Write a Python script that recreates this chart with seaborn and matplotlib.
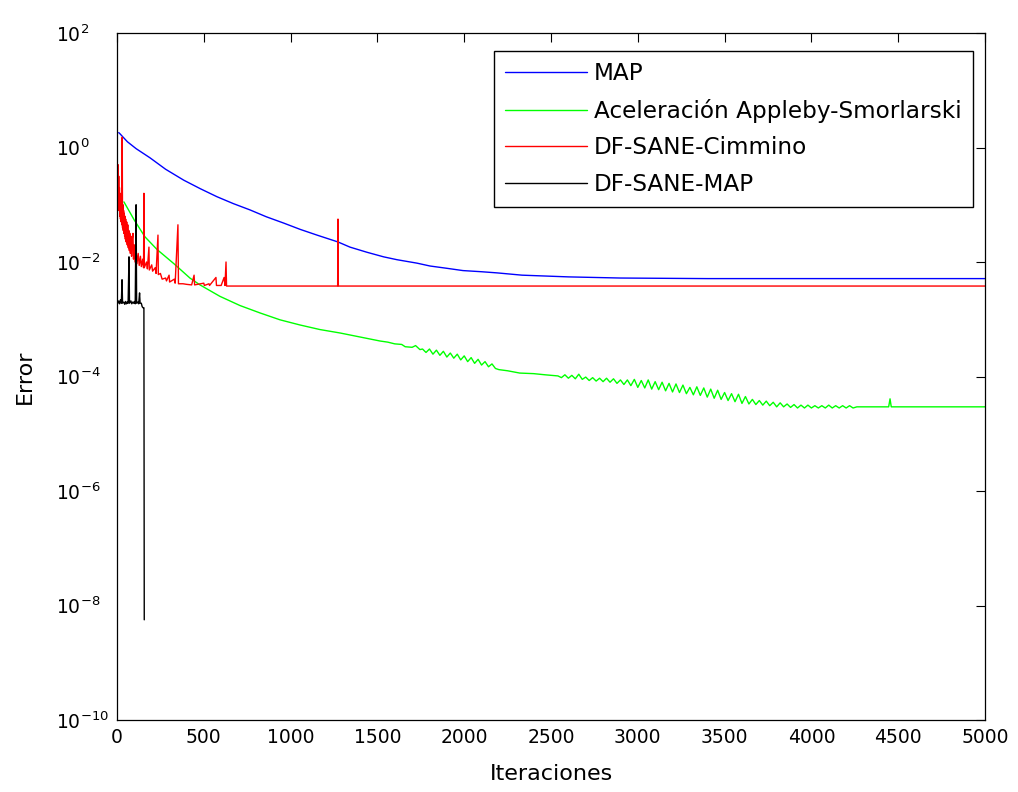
import numpy as np
import pandas as pd
import matplotlib
matplotlib.use("Agg")
import matplotlib.pyplot as plt
from matplotlib.lines import Line2D
from matplotlib.ticker import NullLocator
import seaborn as sns

# ---------------- data (log10 of the error) ----------------
series_names = ["MAP", "Aceleración Appleby-Smorlarski", "DF-SANE-Cimmino", "DF-SANE-MAP"]
series_colors = ["#0000ff", "#00ff00", "#ff0000", "#000000"]

map_it = [10, 17, 60, 110, 190, 280, 384, 480, 576, 670, 766, 860, 960, 1055, 1152,
          1273, 1342, 1440, 1536, 1613, 1728, 1803, 1900, 1993, 2100, 2189, 2333,
          2600, 2900, 3400, 4000, 5000]
map_log = [0.26, 0.24, 0.10, -0.02, -0.18, -0.38, -0.57, -0.72, -0.86, -0.98, -1.09,
           -1.21, -1.32, -1.43, -1.53, -1.65, -1.74, -1.83, -1.91, -1.96, -2.02, -2.07,
           -2.11, -2.15, -2.17, -2.19, -2.23, -2.26, -2.28, -2.29, -2.29, -2.29]

acel_it = [40, 100, 161, 230, 328, 420, 478, 593, 708, 824, 939, 1054, 1169, 1285, 1400,
           1515, 1560, 1600, 1640, 1660, 1700, 1720, 1745, 1760,
           1780, 1800, 1820, 1840, 1860, 1880, 1900, 1920, 1940, 1960, 1980, 2000, 2020,
           2040, 2060, 2080, 2100, 2120, 2140, 2160, 2180, 2200,
           2250, 2320, 2400, 2465, 2540,
           2560, 2580, 2600, 2620, 2640, 2660, 2680, 2700, 2720, 2740, 2760, 2780, 2800,
           2820, 2840, 2860, 2880, 2900, 2920, 2940, 2960, 2980, 3000, 3020, 3040, 3060,
           3080, 3100, 3120, 3140, 3160, 3180, 3200, 3220, 3240, 3260, 3280, 3300, 3320,
           3340, 3360, 3380, 3400, 3420, 3440, 3460, 3480, 3500, 3520, 3540, 3560, 3580,
           3600, 3620, 3640, 3660, 3680, 3700, 3720, 3740, 3760, 3780, 3800, 3820, 3840,
           3860, 3880, 3900, 3920, 3940, 3960, 3980, 4000, 4020, 4040, 4060, 4080, 4100,
           4120, 4140, 4160, 4180, 4200, 4220, 4240, 4262,
           4445, 4453, 4460, 5000]
acel_log = [-0.95, -1.27, -1.56, -1.78, -2.03, -2.28, -2.40, -2.60, -2.76, -2.89, -3.01,
            -3.10, -3.18, -3.24, -3.31,
            -3.38, -3.40, -3.43, -3.44, -3.48, -3.49, -3.46, -3.53, -3.52,
            -3.58, -3.52, -3.61, -3.54, -3.63, -3.56, -3.66, -3.59, -3.68, -3.61, -3.71,
            -3.64, -3.74, -3.67, -3.77, -3.70, -3.80, -3.74, -3.83, -3.78, -3.86, -3.88,
            -3.90, -3.94, -3.95, -3.97, -3.99,
            -4.02, -3.97, -4.03, -3.98, -4.04, -3.96, -4.05, -4.01, -4.07, -4.02, -4.08,
            -4.03, -4.09, -4.03, -4.10, -4.04, -4.12, -4.06, -4.14, -4.06, -4.16, -4.05,
            -4.19, -4.07, -4.20, -4.06, -4.22, -4.09, -4.23, -4.10, -4.25, -4.12, -4.27,
            -4.13, -4.28, -4.15, -4.30, -4.19, -4.32, -4.18, -4.33, -4.20, -4.36, -4.22,
            -4.38, -4.24, -4.40, -4.28, -4.42, -4.30, -4.44, -4.31, -4.47, -4.35, -4.48,
            -4.40, -4.49, -4.42, -4.50, -4.43, -4.51, -4.45, -4.53, -4.46, -4.53, -4.48,
            -4.54, -4.49, -4.55, -4.50, -4.55, -4.50, -4.55, -4.51, -4.55, -4.51, -4.55,
            -4.50, -4.55, -4.51, -4.55, -4.51, -4.55, -4.51, -4.55, -4.53,
            -4.53, -4.39, -4.53, -4.53]

cimm_it = [0, 2, 4, 6, 8, 10, 12, 14, 16, 18, 20, 22, 24, 26, 28, 30, 32, 34, 36, 38, 40,
           42, 44, 46, 48, 50, 53, 56, 59, 62, 65, 68, 71, 74, 77, 80, 84, 88, 92, 95, 100,
           104, 110, 115, 122, 128, 135, 140, 148, 153, 155, 157, 170, 175, 184, 186, 200,
           205, 220, 225, 236, 238, 250, 260, 280, 285, 300, 303, 330, 335, 351, 354, 380,
           400, 430, 444, 447, 500, 503, 530, 533, 570, 573, 600, 617, 622, 628, 631, 1271,
           1273, 1275, 5000]
cimm_log = [1.41, -0.60, -1.00, -0.30, -1.10, -0.50, -1.10, -0.70, -1.20, -0.80, -1.25,
            -0.90, -1.30, -0.95, -1.35, 0.18, -1.40, -1.00, -1.45, -1.10, -1.50, -1.15,
            -1.55, -1.20, -1.60, -1.25, -1.65, -1.30, -1.70, -1.35, -1.75, -1.45, -1.80,
            -1.50, -1.85, -1.55, -1.90, -1.60, -1.50, -1.95, -1.70, -2.00, -1.80, -2.03,
            -1.85, -2.06, -1.90, -2.08, -1.95, -2.10, -0.80, -2.10, -2.00, -2.12, -1.74,
            -2.14, -2.05, -2.16, -2.10, -2.20, -1.53, -2.22, -2.20, -2.30, -2.28, -2.33,
            -2.23, -2.35, -2.30, -2.37, -1.35, -2.38, -2.38, -2.39, -2.40, -2.23, -2.40,
            -2.37, -2.41, -2.38, -2.41, -2.27, -2.41, -2.41, -2.27, -2.41, -2.00, -2.42,
            -2.42, -1.25, -2.42, -2.42]

dfmap_it = [0, 5, 10, 15, 20, 25, 29, 32, 40, 45, 50, 55, 60, 64, 69, 72, 80, 85, 90, 95,
            100, 105, 110, 113, 120, 125, 130, 133, 140, 145, 150, 155, 157]
dfmap_log = [-2.70, -2.72, -2.68, -2.73, -2.66, -2.72, -2.31, -2.72, -2.70, -2.74, -2.69,
             -2.73, -2.70, -2.72, -1.91, -2.72, -2.68, -2.73, -2.70, -2.72, -2.69, -2.73,
             -1.00, -2.72, -2.70, -2.73, -2.54, -2.72, -2.72, -2.78, -2.80, -2.80, -8.25]

x_ticks = list(range(0, 5001, 500))
y_ticks = [1e-10, 1e-8, 1e-6, 1e-4, 1e-2, 1e0, 1e2]

# ---------------- build table ----------------
frames = []
for name, its, logs in zip(series_names,
                           [map_it, acel_it, cimm_it, dfmap_it],
                           [map_log, acel_log, cimm_log, dfmap_log]):
    frames.append(pd.DataFrame({"Iteraciones": its,
                                "Error": 10.0 ** np.asarray(logs, dtype=float),
                                "Método": name}))
df = pd.concat(frames, ignore_index=True)
palette = dict(zip(series_names, series_colors))

# ---------------- plot ----------------
sns.set_style("white")
plt.rcParams["font.family"] = ["DejaVu Sans"]
plt.rcParams["text.color"] = "black"
plt.rcParams["axes.labelcolor"] = "black"

fig = plt.figure(figsize=(10.18, 7.92), dpi=100)
ax = fig.add_axes([117 / 1018, 1 - 720 / 792, 868 / 1018, 687 / 792])

sns.lineplot(data=df, x="Iteraciones", y="Error", hue="Método", hue_order=series_names,
             palette=palette, estimator=None, sort=False, linewidth=1.0, ax=ax, legend=False)

ax.set_yscale("log")
ax.set_xlim(0, 5000)
ax.set_ylim(1e-10, 1e2)
ax.set_xticks(x_ticks)
ax.set_yticks(y_ticks)
ax.yaxis.set_minor_locator(NullLocator())
ax.xaxis.set_minor_locator(NullLocator())
ax.tick_params(direction="in", top=True, right=True, length=6.5, width=0.8,
               labelsize=13.5, colors="black")
ax.tick_params(axis="x", pad=6)
ax.tick_params(axis="y", pad=44)
for lab in ax.get_yticklabels():
    lab.set_horizontalalignment("left")
for sp in ax.spines.values():
    sp.set_visible(True)
    sp.set_color("black")
    sp.set_linewidth(0.9)

ax.set_xlabel("Iteraciones", fontsize=16, labelpad=12, color="black")
ax.set_ylabel("Error", fontsize=16, labelpad=15, color="black")

handles = [Line2D([0], [0], color=c, lw=1.0) for c in series_colors]
leg = ax.legend(handles, series_names, loc="upper right", bbox_to_anchor=(0.986, 0.974),
                borderaxespad=0, frameon=True, fancybox=False, edgecolor="black",
                framealpha=1, fontsize=16.7, handlelength=3.5, handletextpad=0.3,
                borderpad=0.5, labelspacing=0.58)
leg.get_frame().set_linewidth(1.0)
for t in leg.get_texts():
    t.set_color("black")

fig.savefig("out.png", dpi=100)
